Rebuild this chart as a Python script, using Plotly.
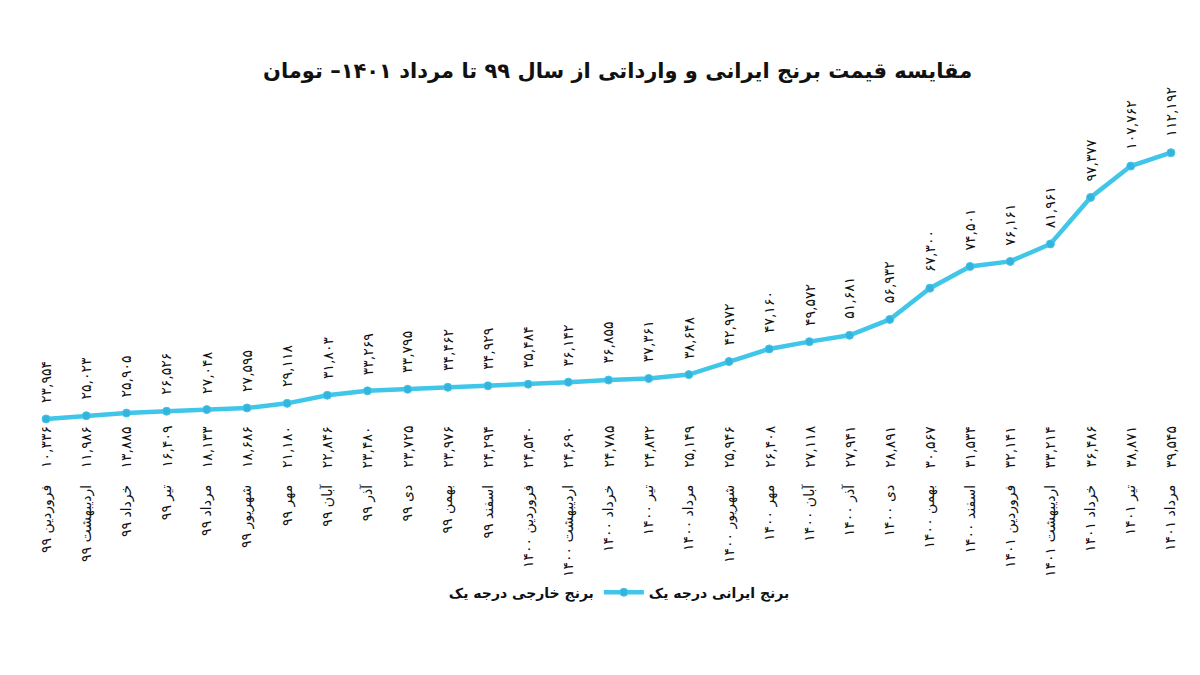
import plotly.graph_objects as go

categories = [
    "فروردین ۹۹", "اردیبهشت ۹۹", "خرداد ۹۹", "تیر ۹۹", "مرداد ۹۹", "شهریور ۹۹",
    "مهر ۹۹", "آبان ۹۹", "آذر ۹۹", "دی ۹۹", "بهمن ۹۹", "اسفند ۹۹",
    "فروردین ۱۴۰۰", "اردیبهشت ۱۴۰۰", "خرداد ۱۴۰۰", "تیر ۱۴۰۰", "مرداد ۱۴۰۰", "شهریور ۱۴۰۰",
    "مهر ۱۴۰۰", "آبان ۱۴۰۰", "آذر ۱۴۰۰", "دی ۱۴۰۰", "بهمن ۱۴۰۰", "اسفند ۱۴۰۰",
    "فروردین ۱۴۰۱", "اردیبهشت ۱۴۰۱", "خرداد ۱۴۰۱", "تیر ۱۴۰۱", "مرداد ۱۴۰۱",
]

iranian = [
    23954, 25023, 25905, 26526, 27048, 27595, 29118, 31803, 33269, 33795,
    34462, 34929, 35484, 36142, 36855, 37361, 38648, 42972, 47160, 49572,
    51681, 56932, 67300, 74501, 76161, 81961, 97377, 107762, 112192,
]

foreign = [
    10336, 11986, 13885, 16409, 18133, 18686, 21180, 22846, 23480, 23725,
    23976, 24294, 24540, 24690, 24785, 24832, 25149, 25946, 26408, 27118,
    27941, 28891, 30567, 31534, 32141, 33214, 36486, 38871, 39545,
]

title_text = "مقایسه قیمت برنج ایرانی و وارداتی از سال ۹۹ تا مرداد ۱۴۰۱– تومان"
name_iranian = "برنج ایرانی درجه یک"
name_foreign = "برنج خارجی درجه یک"

PERSIAN = str.maketrans("0123456789", "۰۱۲۳۴۵۶۷۸۹")


def fa(n):
    return f"{n:,}".translate(PERSIAN)


LINE = "#3fc6e8"
MARK = "#36b3dd"
FONT = "DejaVu Sans"

fig = go.Figure()

fig.add_trace(go.Scatter(
    x=categories, y=foreign, name=name_foreign, mode="lines",
    line=dict(color="rgba(0,0,0,0)", width=0), yaxis="y2",
    hoverinfo="skip", showlegend=True,
))

fig.add_trace(go.Scatter(
    x=categories, y=iranian, name=name_iranian, mode="lines+markers",
    line=dict(color=LINE, width=4.5),
    marker=dict(color=MARK, size=8, line=dict(color=LINE, width=1)),
))

annotations = []
for c, v in zip(categories, iranian):
    annotations.append(dict(
        x=c, y=v, xref="x", yref="y", text=fa(v), textangle=-90,
        showarrow=False, xanchor="center", yanchor="bottom", yshift=14,
        font=dict(family=FONT, size=14, color="#111111"),
    ))
for c, v in zip(categories, foreign):
    annotations.append(dict(
        x=c, y=0.0, xref="x", yref="paper", text=fa(v), textangle=-90,
        showarrow=False, xanchor="center", yanchor="bottom", yshift=1,
        font=dict(family=FONT, size=14, color="#111111"),
    ))

fig.update_layout(
    width=1200, height=675,
    paper_bgcolor="white", plot_bgcolor="white",
    margin=dict(l=18, r=17, t=91, b=212),
    title=dict(text=title_text, x=0.508, xanchor="center", y=0.907, yanchor="middle",
               font=dict(family=FONT, size=21, color="#111111", weight="bold")),
    xaxis=dict(type="category", range=[-0.5, 28.5], showgrid=False, zeroline=False,
               showline=False, ticks="", tickangle=-90, ticklabelstandoff=10,
               tickfont=dict(family=FONT, size=14, color="#111111")),
    yaxis=dict(range=[6700, 130000], visible=False, showgrid=False, zeroline=False),
    yaxis2=dict(range=[0, 130000], overlaying="y", visible=False, showgrid=False),
    legend=dict(orientation="h", x=0.49, xanchor="center", y=-0.327, yanchor="middle",
                font=dict(family=FONT, size=14, color="#111111", weight="bold"),
                traceorder="normal", itemwidth=40),
    showlegend=True,
    annotations=annotations,
)

fig.write_html("out.html")
